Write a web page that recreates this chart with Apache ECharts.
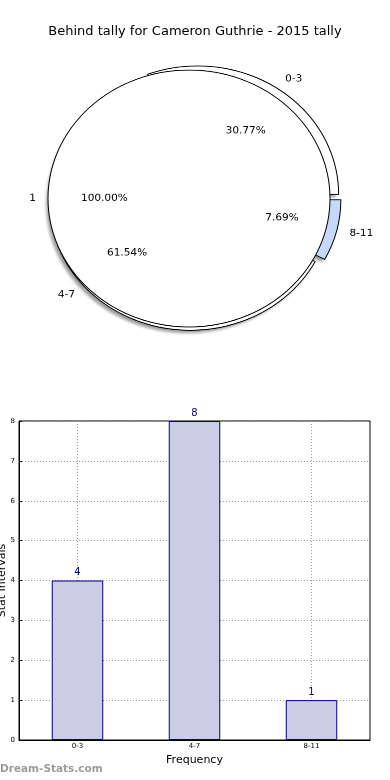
<!DOCTYPE html>
<html><head><meta charset="utf-8">
<script src="https://cdn.jsdelivr.net/npm/echarts@6/dist/echarts.min.js"></script>
<style>
html,body{margin:0;padding:0;background:#fff;}
#main{position:absolute;left:0;top:0;width:390px;height:780px;}
#pie{position:absolute;left:0;top:0;width:390px;height:440px;transform:scaleY(0.911);transform-origin:0 0;}
</style></head><body>
<div id="main"></div><div id="pie"></div>
<script>
// ---- data ----
const chartTitle = 'Behind tally for Cameron Guthrie - 2015 tally';
const categories = ['0-3', '4-7', '8-11'];
const counts = [4, 8, 1];
const totalNames = ['1'];
const totalValues = [1];
const sliceColors = ['#ffffff', '#ffffff', '#c6d9fc'];
const yMin = 0, yMax = 8, yStep = 1;
const watermark = 'Dream-Stats.com';

// ---- layout ----
const FONT = 'DejaVu Sans';
const S = 0.911;            // vertical squash of the pie panel
const CY = 198.5 / S;
const R = 141;
const EXPL = 5.5;
const CX0 = 194.5;
const CX1 = CX0 - EXPL;
const PCT_R = 0.6 * R - 3;
const NAME_R = 1.1 * R - 1;

const pctFmt = p => p.percent.toFixed(2) + '%';
const plain = (names, vals) => names.map((n, i) => ({ name: n, value: vals[i] }));

// mid-angles (math degrees, counter-clockwise from east) for explode offsets
const total = counts.reduce((a, b) => a + b, 0);
let acc = 0;
const mids = counts.map(v => { const m = (acc + v / 2) / total * 360; acc += v; return m; });

const HIDDEN = { color: 'rgba(0,0,0,0)', borderWidth: 0 };
function slicePie(k, withShadow) {
  const a = mids[k] * Math.PI / 180;
  return {
    type: 'pie', silent: true, startAngle: 0, clockwise: false,
    center: [CX0 + EXPL * Math.cos(a), CY - EXPL * Math.sin(a)], radius: R,
    emphasis: { disabled: true },
    label: { show: false }, labelLine: { show: false },
    data: categories.map((n, i) => ({
      name: n, value: counts[i],
      itemStyle: i !== k ? HIDDEN : (withShadow
        ? { color: sliceColors[i], borderWidth: 0,
            shadowBlur: 3, shadowColor: 'rgba(0,0,0,0.4)', shadowOffsetX: -3, shadowOffsetY: 3 }
        : { color: sliceColors[i], borderColor: '#000', borderWidth: 1 })
    }))
  };
}
const shadowSeries = categories.map((c, k) => slicePie(k, true));
const sliceSeries = categories.map((c, k) => slicePie(k, false));

const baseLabelPie = {
  type: 'pie', silent: true, startAngle: 0, clockwise: false,
  avoidLabelOverlap: false, emphasis: { disabled: true },
  itemStyle: HIDDEN,
  labelLine: { show: false, length: 0, length2: 0 }
};

const pie = echarts.init(document.getElementById('pie'), null, { devicePixelRatio: 2 });
pie.setOption({
  backgroundColor: 'transparent',
  animation: false,
  series: shadowSeries.concat(sliceSeries, [
    {
      type: 'pie', silent: true, startAngle: 0, clockwise: false,
      center: [CX1, CY], radius: R,
      emphasis: { disabled: true },
      label: { show: false }, labelLine: { show: false },
      itemStyle: { color: '#ffffff', borderColor: '#000', borderWidth: 1 },
      data: plain(totalNames, totalValues)
    },
    Object.assign({}, baseLabelPie, {
      center: [CX0, CY], radius: [0, 2 * (PCT_R + EXPL)],
      label: { show: true, position: 'inside', formatter: pctFmt, color: '#000', fontSize: 10.5, fontFamily: FONT },
      data: plain(categories, counts)
    }),
    Object.assign({}, baseLabelPie, {
      center: [CX0, CY], radius: NAME_R + EXPL,
      label: { show: true, position: 'outside', formatter: '{b}', color: '#000', fontSize: 10.5, fontFamily: FONT, distanceToLabelLine: 0, alignTo: 'none' },
      data: plain(categories, counts)
    }),
    Object.assign({}, baseLabelPie, {
      center: [CX1, CY], radius: [0, 2 * PCT_R],
      label: { show: true, position: 'inside', formatter: pctFmt, color: '#000', fontSize: 10.5, fontFamily: FONT },
      data: plain(totalNames, totalValues)
    }),
    Object.assign({}, baseLabelPie, {
      center: [CX1, CY], radius: NAME_R - 1,
      label: { show: true, position: 'outside', formatter: '{b}', color: '#000', fontSize: 10.5, fontFamily: FONT, distanceToLabelLine: 0, alignTo: 'none' },
      data: plain(totalNames, totalValues)
    })
  ])
});

const main = echarts.init(document.getElementById('main'));
const dotted = { type: [1, 2], color: '#9a9a9a', width: 1 };
main.setOption({
  backgroundColor: '#fff',
  animation: false,
  title: { text: chartTitle, left: 'center', top: 20,
    textStyle: { fontFamily: FONT, fontSize: 13, fontWeight: 'normal', color: '#000' } },
  grid: { left: 19, right: 20, top: 421, bottom: 40, show: true, borderColor: '#000', borderWidth: 1,
    backgroundColor: 'transparent', containLabel: false, outerBoundsMode: 'none' },
  xAxis: {
    type: 'category', data: categories,
    name: 'Frequency', nameLocation: 'middle', nameGap: 15, nameMoveOverlap: false,
    nameTextStyle: { fontFamily: FONT, fontSize: 11, color: '#000' },
    axisLine: { show: true, lineStyle: { color: '#000', width: 1 } },
    axisTick: { show: true, alignWithLabel: true, inside: true, length: 3, lineStyle: { color: '#000' } },
    axisLabel: { fontFamily: FONT, fontSize: 7, color: '#000', margin: 3 },
    splitLine: { show: true, alignWithLabel: true, lineStyle: dotted }
  },
  yAxis: {
    type: 'value', min: yMin, max: yMax, interval: yStep,
    name: 'Stat Intervals', nameLocation: 'middle', nameGap: 11, nameMoveOverlap: false,
    nameTextStyle: { fontFamily: FONT, fontSize: 11, color: '#000' },
    axisLine: { show: true, lineStyle: { color: '#000', width: 1 } },
    axisTick: { show: true, inside: true, length: 3, lineStyle: { color: '#000' } },
    axisLabel: { fontFamily: FONT, fontSize: 7, color: '#000', margin: 4 },
    splitLine: { show: true, lineStyle: dotted }
  },
  series: [{
    type: 'bar', data: counts, barWidth: '44%',
    itemStyle: { color: '#ccccE6', borderColor: '#000080', borderWidth: 1 },
    label: { show: true, position: 'top', distance: 3, color: '#000080', fontFamily: FONT, fontSize: 10 },
    emphasis: { disabled: true }
  }],
  graphic: [{
    type: 'text', left: 0, top: 764, silent: true,
    style: { text: watermark, font: 'bold 10.5px "DejaVu Sans"', fill: '#9c9c9c' }
  }]
});
</script>
</body></html>
